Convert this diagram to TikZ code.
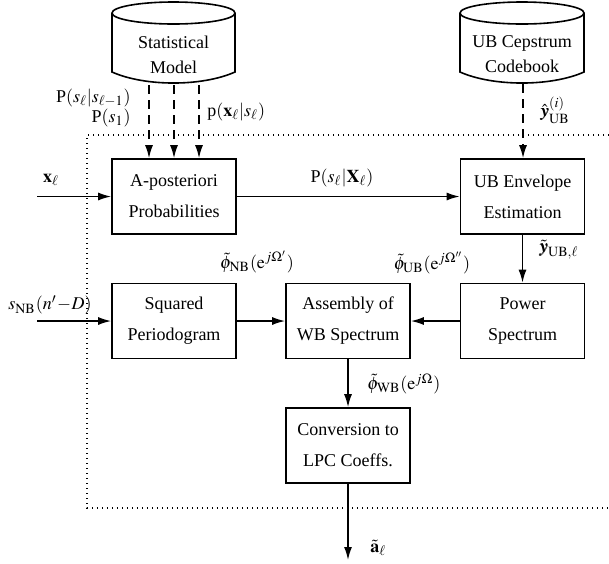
\documentclass[tikz,border=0pt]{standalone}
\usepackage{mathptmx}
\usepackage{bm}
\usepackage{fontspec}
\setmainfont{Liberation Serif}
\newfontfamily\tmsfont{Liberation Serif}
\usetikzlibrary{arrows.meta}
\begin{document}
\begin{tikzpicture}[x=0.5pt,y=-0.5pt,
 every node/.style={font=\tmsfont\fontsize{9}{15.5}\selectfont},
 blk/.style={draw, line width=0.8pt, minimum width=62pt, minimum height=37.5pt, align=center, inner sep=0pt},
 cyltext/.style={align=center, font=\tmsfont\fontsize{9}{12.5}\selectfont},
 cylline/.style={line width=0.8pt},
 arr/.style={line width=0.8pt, -{Latex[length=6.5pt,width=4pt]}},
 dsh/.style={arr, dash pattern=on 4.5pt off 3pt},
 dotl/.style={line width=0.7pt, dash pattern=on 0.7pt off 1.8pt},
 lbl/.style={inner sep=0pt}]
\useasboundingbox (0,0) rectangle (609,563);

% dotted frame
\draw[dotl] (609,135) -- (87,135) -- (87,508) -- (609,508);

% cylinders
\draw[cylline] (112,13) -- (112,72) .. controls (145,86.7) and (202,86.7) .. (235,72) -- (235,13);
\draw[cylline] (173.5,13) ellipse [x radius=30.75pt, y radius=5.5pt];
\node[cyltext] (sm) at (173.5,54.5) {Statistical\\Model};

\draw[cylline] (460,13) -- (460,72) .. controls (493,86.7) and (551,86.7) .. (584,72) -- (584,13);
\draw[cylline] (522,13) ellipse [x radius=31pt, y radius=5.5pt];
\node[cyltext] (cb) at (522,54.5) {UB Cepstrum\\Codebook};

% blocks
\node[blk] (ap) at (174,196.5) {A-posteriori\\Probabilities};
\node[blk] (ub) at (522.5,196.5) {UB Envelope\\Estimation};
\node[blk] (sq) at (174,321) {Squared\\Periodogram};
\node[blk] (as) at (348,321) {Assembly of\\WB Spectrum};
\node[blk] (ps) at (522.5,321) {Power\\Spectrum};
\node[blk] (cv) at (348,445.5) {Conversion to\\LPC Coeffs.};

% free ends
\coordinate (s1) at (149,85);
\coordinate (s2) at (174,85);
\coordinate (s3) at (199,85);
\coordinate (c1) at (523,84);
\coordinate (xin) at (37,196.5);
\coordinate (sin) at (37,321);
\coordinate (out) at (348,560);

% connectors
\draw[dsh] (s1) -- (s1 |- ap.north);
\draw[dsh] (s2) -- (s2 |- ap.north);
\draw[dsh] (s3) -- (s3 |- ap.north);
\draw[dsh] (c1) -- (c1 |- ub.north);
\draw[arr] (xin) -- (ap.west);
\draw[arr] (sin) -- (sq.west);
\draw[arr] (ap) -- (ub);
\draw[arr] (ub) -- (ps);
\draw[arr] (sq) -- (as);
\draw[arr] (ps) -- (as);
\draw[arr] (as) -- (cv);
\draw[arr] (cv) -- (out);

% labels
\node[lbl, anchor=east] (l1) at (131,98) {P$(s_\ell|s_{\ell-1})$};
\node[lbl, anchor=east] (l2) at (131,118) {P$(s_1)$};
\node[lbl, anchor=west] (l3) at (207,112) {p$(\mathbf{x}_\ell|s_\ell)$};
\node[lbl, anchor=west] (l4) at (540,110) {$\hat{\bm{y}}^{(i)}_{\mathrm{UB}}$};
\node[lbl] (l5) at (51,180) {$\mathbf{x}_\ell$};
\node[lbl] (l6) at (342,178) {P$(s_\ell|\mathbf{X}_\ell)$};
\node[lbl, anchor=west] (l7) at (539,250) {$\tilde{\bm{y}}_{\mathrm{UB},\ell}$};
\node[lbl] (l8) at (257,262) {$\tilde{\phi}_{\mathrm{NB}}(\mathrm{e}^{j\Omega'})$};
\node[lbl] (l9) at (432,263) {$\tilde{\phi}_{\mathrm{UB}}(\mathrm{e}^{j\Omega''})$};
\node[lbl] (l10) at (50,305) {$s_{\mathrm{NB}}(n'\!-\!D)$};
\node[lbl, anchor=west] (l11) at (367,384) {$\tilde{\phi}_{\mathrm{WB}}(\mathrm{e}^{j\Omega})$};
\node[lbl, anchor=west] (l12) at (370,548) {$\tilde{\mathbf{a}}_\ell$};
\end{tikzpicture}
\end{document}
